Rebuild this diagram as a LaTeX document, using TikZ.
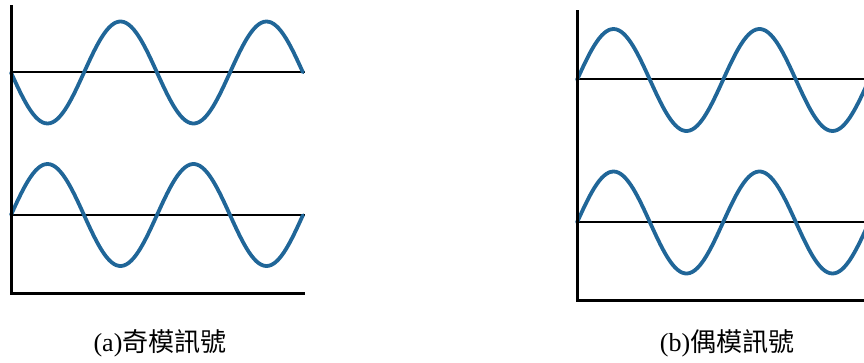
\documentclass[tikz,border=0pt]{standalone}
\usepackage{fontspec}
\setmainfont{Liberation Serif}
\newfontfamily\cjk{Noto Sans CJK TC}
\definecolor{wavecol}{RGB}{32,102,152}
\begin{document}
\begin{tikzpicture}[x=1pt,y=-1pt,
  axis/.style={line width=3pt,black},
  midline/.style={line width=1.3pt,black},
  wave/.style={line width=3.8pt,wavecol,line cap=round},
  caption/.style={font=\fontsize{26}{30}\selectfont,inner sep=0pt}]
\useasboundingbox (0,0) rectangle (864,362);
% left panel
\draw[midline] (11,72) -- (305,72);
\draw[midline] (11,215) -- (305,215);
\draw[wave] plot[domain=0:2,samples=120,smooth] ({11+146*\x},{72.5+51*sin(360*\x)});
\draw[wave] plot[domain=0:2,samples=120,smooth] ({11+146*\x},{215-51*sin(360*\x)});
\draw[axis] (11,5) -- (11,293) -- (305,293);
% right panel
\begin{scope}
\clip (560,0) rectangle (864,320);
\draw[midline] (577,79) -- (864,79);
\draw[midline] (577,222) -- (864,222);
\draw[wave] plot[domain=0:2,samples=120,smooth] ({577+146*\x},{80-51*sin(360*\x)});
\draw[wave] plot[domain=0:2,samples=120,smooth] ({577+146*\x},{222.5-51*sin(360*\x)});
\draw[axis] (577,10) -- (577,300) -- (870,300);
\end{scope}
\node[caption] (capa) at (160,343) {(a)\cjk 奇模訊號};
\node[caption] (capb) at (727,343) {(b)\cjk 偶模訊號};
\end{tikzpicture}
\end{document}
